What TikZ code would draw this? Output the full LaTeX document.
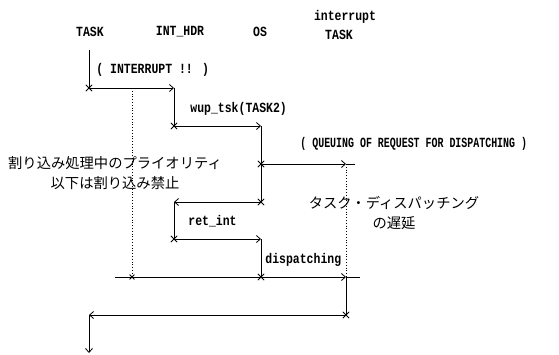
\documentclass[tikz,border=0pt]{standalone}
\usepackage{fontspec}
\usetikzlibrary{arrows.meta,shapes.misc}
\newfontfamily\monof[FakeStretch=0.82]{Liberation Mono}
\newfontfamily\monoq[FakeStretch=0.71]{Liberation Mono}
\newfontfamily\jpf{Noto Sans CJK JP}
\begin{document}
\begin{tikzpicture}[x=1pt,y=-1pt,
  every path/.style={line width=0.8pt},
  lbl/.style={font=\fontsize{14}{15}\selectfont\monof\bfseries, inner sep=0pt},
  lblq/.style={font=\fontsize{14}{15}\selectfont\monoq\bfseries, inner sep=0pt},
  jp/.style={font=\fontsize{14.3}{20}\selectfont\jpf, inner sep=0pt, align=center},
  xm/.style={cross out, draw, line width=0.8pt, minimum size=5.5pt, inner sep=0pt},
  arr/.style={-{Straight Barb[length=4pt,width=7pt]}},
  dim/.style={dotted, line width=0.7pt}]
\useasboundingbox (0,0) rectangle (559,354);
% headers
\node[lbl] (hTask) at (90,32) {TASK};
\node[lbl] (hInt) at (180,32) {INT\_HDR};
\node[lbl] (hOS) at (260,32) {OS};
\node[lbl] (hIT1) at (345,17) {interrupt};
\node[lbl] (hIT2) at (339,35) {TASK};
% event points
\coordinate (t0) at (89,50);
\node[xm] (t1) at (89,88) {};
\coordinate (h1) at (174,88);
\node[xm] (h2) at (174,126) {};
\coordinate (o1) at (261,126);
\node[xm] (o2) at (261,164) {};
\coordinate (q1) at (346,164);
\coordinate (q2) at (355,164);
\node[xm] (o3) at (261,202) {};
\coordinate (h3) at (174,202);
\node[xm] (h4) at (174,239) {};
\coordinate (o4) at (261,239);
\node[xm] (o5) at (261,277) {};
\coordinate (i1) at (346,277);
\coordinate (i1e) at (360,277);
\node[xm] (i2) at (346,315) {};
\coordinate (t2) at (89,315);
\coordinate (t3) at (89,353);
% sequence
\draw (t0) -- (t1.center);
\draw[arr] (t1.center) -- (h1);
\draw (h1) -- (h2.center);
\draw[arr] (h2.center) -- (o1);
\draw (o1) -- (o3.center);
\draw[arr] (o2.center) -- (q1);
\draw (q1) -- (q2);
\draw[arr] (o3.center) -- (h3);
\draw (h3) -- (h4.center);
\draw[arr] (h4.center) -- (o4);
\draw (o4) -- (o5.center);
\draw[arr] (o5.center) -- (i1);
\draw (i1) -- (i1e);
\draw (i1) -- (i2.center);
\draw[arr] (i2.center) -- (t2);
\draw[arr] (t2) -- (t3);
% dimension lines
\coordinate (d1t) at (132,88);
\node[xm, minimum size=4pt] (d1b) at (132,277) {};
\coordinate (d1l) at (115,277);
\draw[dim] (d1t) -- (d1b.center);
\draw (d1l) -- (o5.center);
\draw[dim] (q1) -- (i1);
% labels
\node[lbl, anchor=west] (lInt) at (96,70) {( INTERRUPT !! )};
\node[lbl, anchor=west] (lWup) at (190,109) {wup\_tsk(TASK2)};
\node[lblq, anchor=west] (lQ) at (300,144) {( QUEUING OF REQUEST FOR DISPATCHING )};
\node[lbl, anchor=west] (lRet) at (188,221) {ret\_int};
\node[lbl, anchor=west] (lDisp) at (265,260) {dispatching};
\node[jp] (jp1) at (115,173) {割り込み処理中のプライオリティ\\以下は割り込み禁止};
\node[jp] (jp2) at (394,213) {タスク・ディスパッチング\\の遅延};
\end{tikzpicture}
\end{document}
